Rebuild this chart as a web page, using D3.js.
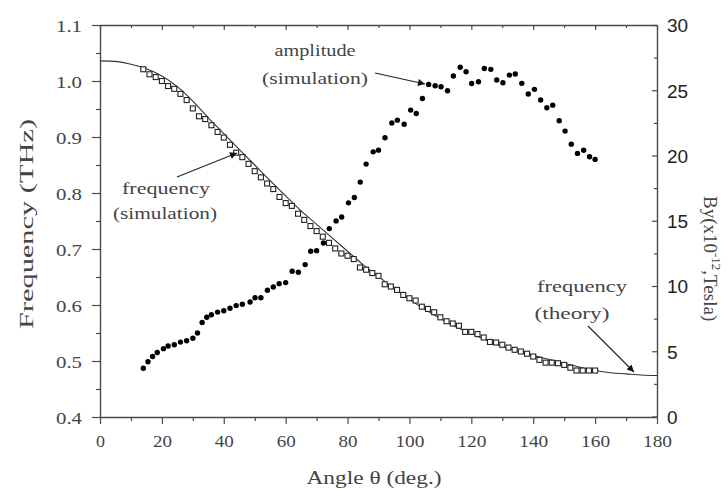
<!DOCTYPE html>
<html><head><meta charset="utf-8">
<script src="https://cdn.jsdelivr.net/npm/d3@7"></script>
<style>
html,body{margin:0;padding:0;background:#fff;}
svg{display:block;}
</style></head>
<body>
<svg id="chart" width="728" height="489"></svg>
<script>
// ---------- data ----------
const thetaTheory = [0,5,10,15,20,25,30,35,40,45,50,55,60,65,70,75,80,85,90,95,100,105,110,115,120,125,130,135,140,145,150,155,160,165,170,175,180];
const freqTheory  = [1.036,1.035,1.030,1.022,1.009,0.990,0.964,0.934,0.906,0.878,0.850,0.822,0.795,0.768,0.744,0.720,0.696,0.672,0.651,0.630,0.610,0.592,0.576,0.561,0.549,0.537,0.526,0.517,0.510,0.503,0.496,0.489,0.483,0.479,0.477,0.475,0.474];

const thetaFreqSim = [14,16,18,20,22,24,26,28,30,32,34,36,38,40,42,44,46,48,50,52,54,56,58,60,62,64,66,68,70,72,74,76,78,80,82,84,86,88,90,92,94,96,98,100,102,104,106,108,110,112,114,116,118,120,122,124,126,128,130,132,134,136,138,140,142,144,146,148,150,152,154,156,158,160];
const freqSim      = [1.021,1.012,1.007,1.000,0.991,0.986,0.977,0.966,0.951,0.937,0.932,0.921,0.909,0.899,0.886,0.872,0.864,0.852,0.839,0.828,0.817,0.807,0.793,0.782,0.777,0.763,0.752,0.741,0.732,0.722,0.711,0.701,0.692,0.688,0.682,0.667,0.663,0.657,0.652,0.637,0.633,0.627,0.618,0.612,0.608,0.597,0.593,0.587,0.578,0.571,0.567,0.563,0.552,0.552,0.548,0.542,0.534,0.533,0.529,0.524,0.520,0.517,0.513,0.508,0.502,0.497,0.497,0.496,0.493,0.488,0.483,0.483,0.483,0.483];

const thetaAmp = [14,15.5,17,18.5,20.5,22,24,26,28,30,31.5,33,34.5,36,38,40,42,44,46,48.5,50.1,52,54.1,56,57.9,60,62.1,64.1,66.3,68.1,70,72.2,74.1,76.3,78.1,80.3,82.2,84.1,86,88.3,90,92.1,94.3,96.1,98.3,100.4,102.2,104.2,106.2,108.3,110.2,112.3,114.2,116.4,118.3,120.1,122.3,124.2,126.3,128.2,130.2,132.3,134.2,136.3,138.4,140.4,142.4,144.4,146.3,148.4,150.3,152.3,154.3,156.3,158.2,160];
const ampSim   = [3.7,4.2,4.6,4.9,5.2,5.4,5.5,5.7,5.8,6.0,6.4,7.2,7.6,7.8,8.0,8.1,8.3,8.5,8.6,8.77,9.1,9.1,9.67,9.92,10.18,10.26,11.13,11.05,11.64,12.66,12.71,13.3,14.4,14.99,15.29,16.37,16.78,17.96,19.34,20.28,20.41,21.36,22.5,22.71,22.4,23.48,23.22,24.37,25.45,25.35,25.27,24.96,26.09,26.76,26.42,25.52,25.65,26.67,26.6,25.78,25.57,26.16,26.24,25.53,24.71,25.07,24.25,23.66,23.86,22.66,21.87,20.87,20.16,20.4,19.9,19.7];

const xTickLabels  = [0,20,40,60,80,100,120,140,160,180];
const xMinorTicks  = [10,30,50,70,90,110,130,150,170];
const yLeftLabels  = [0.4,0.5,0.6,0.7,0.8,0.9,1.0,1.1];
const yLeftMinor   = [0.45,0.55,0.65,0.75,0.85,0.95,1.05];
const yRightLabels = [0,5,10,15,20,25,30];
const yRightMinor  = [2.5,7.5,12.5,17.5,22.5,27.5];

// ---------- layout ----------
const svg = d3.select("#chart");
const L = 100, R = 657, T = 25, B = 417;
const x  = d3.scaleLinear().domain([0,180]).range([L,R]);
const yL = d3.scaleLinear().domain([0.4,1.1]).range([B,T]);
const yR = d3.scaleLinear().domain([0,30]).range([B-0.5,T]);

const axisColor = "#4a4a4a";
const textColor = "#444";
const serif = "'Liberation Serif','DejaVu Serif',serif";

function styleAxis(g){
  g.select(".domain").attr("stroke",axisColor).attr("stroke-width",1.4);
  g.selectAll(".tick line").attr("stroke",axisColor).attr("stroke-width",1.2);
}
function minor(g){
  g.select(".domain").remove();
  g.selectAll(".tick line").attr("stroke",axisColor).attr("stroke-width",1.2);
}

// bottom axis
const gB = svg.append("g").attr("transform",`translate(0,${B})`)
  .call(d3.axisBottom(x).tickValues(xTickLabels).tickSize(7).tickSizeOuter(0).tickFormat(d3.format("d")));
styleAxis(gB);
gB.selectAll(".tick text").attr("font-family",serif).attr("font-size",17).attr("fill",textColor)
  .attr("dy",null).attr("y",30)
  .each(function(d){ const n=String(d).length; d3.select(this).attr("textLength",n*10-1).attr("lengthAdjust","spacingAndGlyphs"); });
svg.append("g").attr("transform",`translate(0,${B})`)
  .call(d3.axisBottom(x).tickValues(xMinorTicks).tickSize(4).tickSizeOuter(0).tickFormat("")).call(minor);

// top axis (inward ticks)
const gT = svg.append("g").attr("transform",`translate(0,${T})`)
  .call(d3.axisTop(x).tickValues(xTickLabels).tickSize(-5).tickSizeOuter(0).tickFormat(""));
styleAxis(gT);
svg.append("g").attr("transform",`translate(0,${T})`)
  .call(d3.axisTop(x).tickValues(xMinorTicks).tickSize(-3).tickSizeOuter(0).tickFormat("")).call(minor);

// left axis
const gL = svg.append("g").attr("transform",`translate(${L},0)`)
  .call(d3.axisLeft(yL).tickValues(yLeftLabels).tickSize(8).tickSizeOuter(0).tickPadding(10).tickFormat(d3.format(".1f")));
styleAxis(gL);
gL.selectAll(".tick text").attr("font-family",serif).attr("font-size",17).attr("fill",textColor)
  .attr("dy","0.36em").attr("textLength",26).attr("lengthAdjust","spacingAndGlyphs");
svg.append("g").attr("transform",`translate(${L},0)`)
  .call(d3.axisLeft(yL).tickValues(yLeftMinor).tickSize(4).tickSizeOuter(0).tickFormat("")).call(minor);

// right axis (inward ticks, sans labels)
const gR = svg.append("g").attr("transform",`translate(${R},0)`)
  .call(d3.axisRight(yR).tickValues(yRightLabels).tickSize(-5).tickSizeOuter(0).tickFormat(d3.format("d")));
styleAxis(gR);
gR.selectAll(".tick text").attr("font-family","'Liberation Sans',Arial,sans-serif").attr("font-size",19).attr("fill","#222")
  .attr("x",10).attr("dy","0.36em");
svg.append("g").attr("transform",`translate(${R},0)`)
  .call(d3.axisRight(yR).tickValues(yRightMinor).tickSize(-3).tickSizeOuter(0).tickFormat("")).call(minor);

// ---------- marks ----------
const theory = thetaTheory.map((t,i)=>[t,freqTheory[i]]);
svg.append("path").datum(theory)
  .attr("d", d3.line().x(d=>x(d[0])).y(d=>yL(d[1])).curve(d3.curveCatmullRom.alpha(0.5)))
  .attr("fill","none").attr("stroke","#333").attr("stroke-width",1.1);

svg.append("g").selectAll("rect").data(thetaFreqSim.map((t,i)=>[t,freqSim[i]])).join("rect")
  .attr("x",d=>x(d[0])-2.5).attr("y",d=>yL(d[1])-2.5).attr("width",5).attr("height",5)
  .attr("fill","#fff").attr("stroke","#222").attr("stroke-width",1.1);

svg.append("g").selectAll("circle").data(thetaAmp.map((t,i)=>[t,ampSim[i]])).join("circle")
  .attr("cx",d=>x(d[0])).attr("cy",d=>yR(d[1])).attr("r",2.7).attr("fill","#000");

// ---------- annotations ----------
const defs = svg.append("defs");
defs.append("marker").attr("id","arr").attr("viewBox","0 0 10 10").attr("refX",10).attr("refY",5)
  .attr("markerWidth",10).attr("markerHeight",7).attr("markerUnits","userSpaceOnUse").attr("orient","auto")
  .append("path").attr("d","M0,0L10,5L0,10z").attr("fill","#111");

function label(txt,xc,yb,len){
  svg.append("text").attr("x",xc).attr("y",yb).attr("text-anchor","middle")
    .attr("font-family",serif).attr("font-size",16.5).attr("fill",textColor)
    .attr("textLength",len).attr("lengthAdjust","spacingAndGlyphs").text(txt);
}
function arrow(x1,y1,x2,y2){
  svg.append("line").attr("x1",x1).attr("y1",y1).attr("x2",x2).attr("y2",y2)
    .attr("stroke","#222").attr("stroke-width",1.1).attr("marker-end","url(#arr)");
}
label("amplitude",315,56,81);
label("(simulation)",315,84,106);
arrow(375,73,425,84);

label("frequency",166,194,88);
label("(simulation)",165,219,104);
arrow(177,177,237,153);

label("frequency",582,292,90);
label("(theory)",572,319,75);
arrow(588,326,634,372);

// ---------- axis titles ----------
svg.append("text").attr("transform","translate(33,224) rotate(-90)").attr("text-anchor","middle")
  .attr("font-family",serif).attr("font-size",19).attr("fill",textColor)
  .attr("textLength",210).attr("lengthAdjust","spacingAndGlyphs").text("Frequency (THz)");

svg.append("text").attr("x",374).attr("y",484).attr("text-anchor","middle")
  .attr("font-family",serif).attr("font-size",19).attr("fill",textColor)
  .attr("textLength",135).attr("lengthAdjust","spacingAndGlyphs").text("Angle θ (deg.)");

const rt = svg.append("text").attr("transform","translate(704,196) rotate(90)").attr("text-anchor","start")
  .attr("font-family",serif).attr("font-size",19).attr("fill",textColor);
rt.append("tspan").text("By(x10");
rt.append("tspan").attr("font-size",13).attr("dy",-8).text("-12");
rt.append("tspan").attr("dy",8).text(",Tesla)");
</script>
</body></html>
